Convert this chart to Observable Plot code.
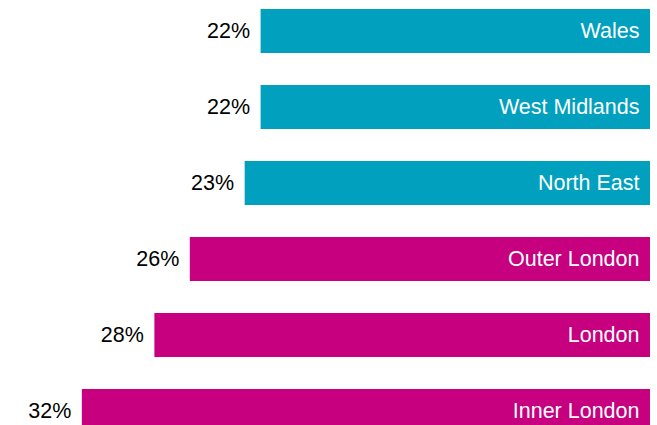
<!DOCTYPE html>
<html>
<head>
<meta charset="utf-8">
<script src="https://cdn.jsdelivr.net/npm/d3@7"></script>
<script src="https://cdn.jsdelivr.net/npm/@observablehq/plot@0.6"></script>
<style>
  html, body { margin: 0; padding: 0; background: #ffffff; overflow: hidden; }
  #chart svg { display: block; }
</style>
</head>
<body>
<div id="chart"></div>
<script>
const regions = ["Wales", "West Midlands", "North East", "Outer London", "London", "Inner London"];
const shares = [22, 22, 22.9, 26, 28, 32.1];
const labels = ["22%", "22%", "23%", "26%", "28%", "32%"];
const groups = ["other", "other", "other", "london", "london", "london"];

const data = regions.map((r, i) => ({region: r, value: shares[i], label: labels[i], group: groups[i]}));

const chart = Plot.plot({
  width: 657,
  height: 425,
  margin: 0,
  style: {fontFamily: "'Liberation Sans', Arial, sans-serif", background: "#ffffff"},
  x: {domain: [0, 36], range: [650, 12.8], axis: null},
  y: {domain: regions, range: [-7, 449], paddingInner: 0.42, paddingOuter: 0.21, axis: null},
  color: {domain: ["other", "london"], range: ["#00a0be", "#c6007e"]},
  marks: [
    Plot.barX(data, {x1: 0, x2: "value", y: "region", fill: "group"}),
    Plot.text(data, {x: "value", y: "region", text: "label", textAnchor: "end", dx: -11, fontSize: 21.5, fill: "#000000"}),
    Plot.text(data, {x: 0, y: "region", text: "region", textAnchor: "end", dx: -11, fontSize: 21.5, fill: "#ffffff"})
  ]
});
document.getElementById("chart").appendChild(chart);
</script>
</body>
</html>
